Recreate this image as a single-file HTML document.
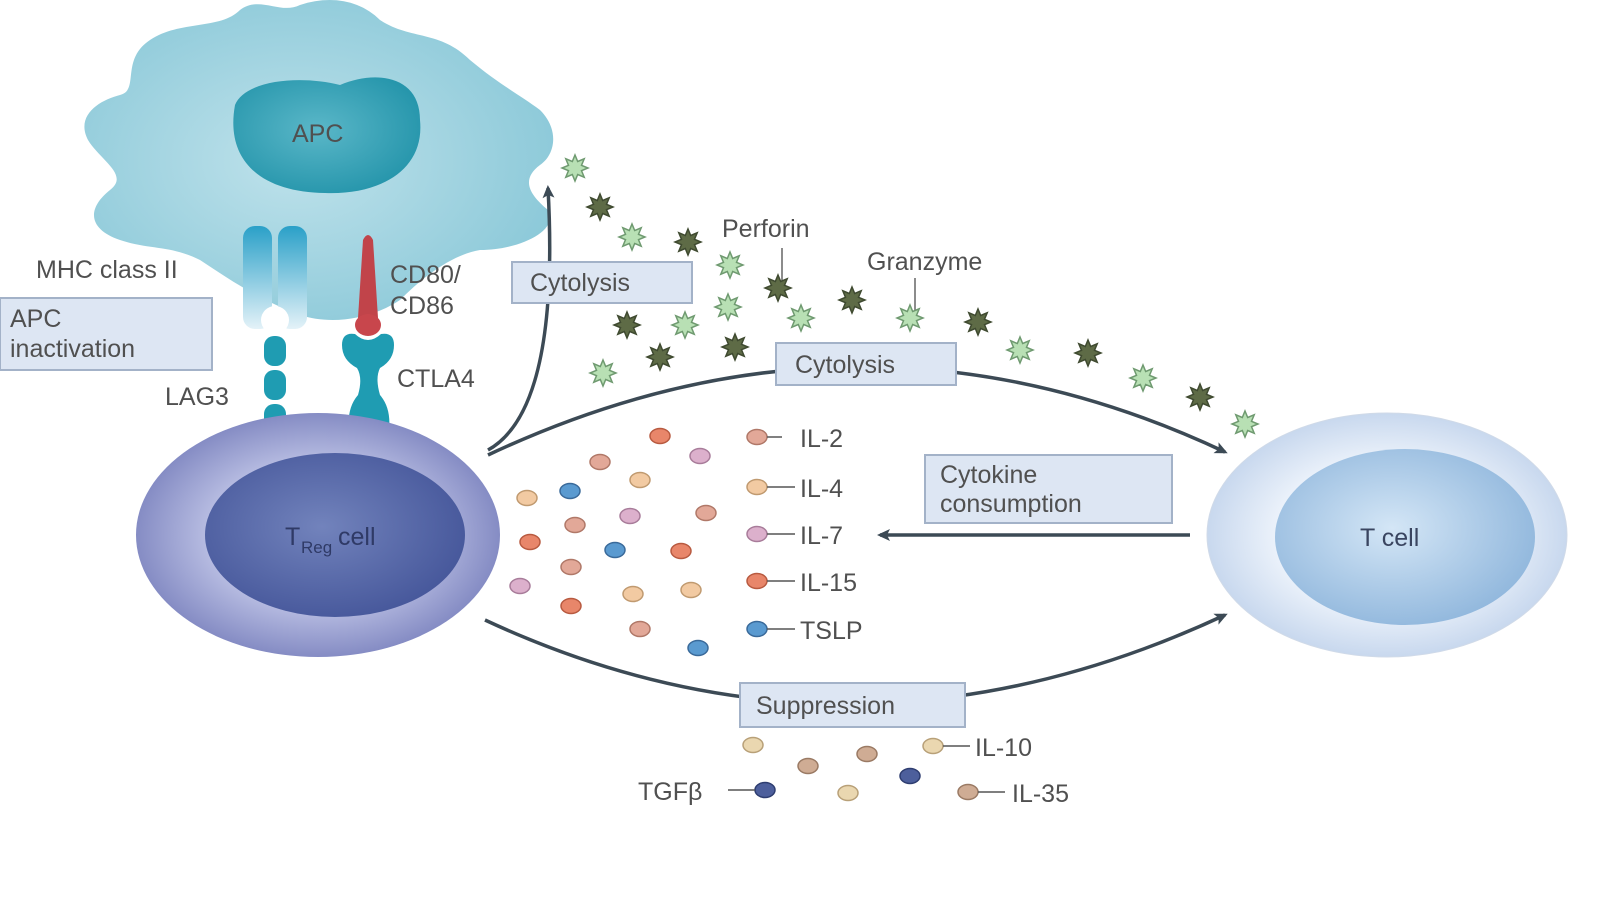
<!DOCTYPE html>
<html><head><meta charset="utf-8"><style>
body{margin:0;background:#fff;width:1600px;height:900px;overflow:hidden}
text{font-family:"Liberation Sans",sans-serif;fill:#505050;font-size:25px}
</style></head><body>
<svg width="1600" height="900" viewBox="0 0 1600 900" xmlns="http://www.w3.org/2000/svg">
<defs>
<radialGradient id="apc" cx="0.45" cy="0.5" r="0.6"><stop offset="0" stop-color="#bfe2eb"/><stop offset="1" stop-color="#8ac8d8"/></radialGradient>
<radialGradient id="nuc" cx="0.45" cy="0.45" r="0.6"><stop offset="0" stop-color="#5ab7c8"/><stop offset="1" stop-color="#2595ab"/></radialGradient>
<radialGradient id="treg" cx="0.5" cy="0.5" r="0.5"><stop offset="0.6" stop-color="#b8bde2"/><stop offset="1" stop-color="#858cc4"/></radialGradient>
<radialGradient id="tregn" cx="0.45" cy="0.45" r="0.6"><stop offset="0" stop-color="#7283bc"/><stop offset="1" stop-color="#45569a"/></radialGradient>
<radialGradient id="tc" cx="0.5" cy="0.5" r="0.5"><stop offset="0.6" stop-color="#edf3fb"/><stop offset="1" stop-color="#c8d8ee"/></radialGradient>
<radialGradient id="tcn" cx="0.45" cy="0.45" r="0.6"><stop offset="0" stop-color="#d4e6f6"/><stop offset="1" stop-color="#8fb6dc"/></radialGradient>
<linearGradient id="mhc" x1="0" y1="0" x2="0" y2="1"><stop offset="0" stop-color="#2aa0c8"/><stop offset="1" stop-color="#e4f2f8"/></linearGradient>
<path id="st" d="M0,-13 L2.7,-6.5 L9.2,-9.2 L6.5,-2.7 L13,0 L6.5,2.7 L9.2,9.2 L2.7,6.5 L0,13 L-2.7,6.5 L-9.2,9.2 L-6.5,2.7 L-13,0 L-6.5,-2.7 L-9.2,-9.2 L-2.7,-6.5 Z"/>
<marker id="ar" markerWidth="14" markerHeight="12" refX="10" refY="6" orient="auto" markerUnits="userSpaceOnUse"><path d="M0,0 L13,6 L0,12 L3,6 Z" fill="#3c4a55"/></marker>
</defs>

<path d="M150,40 C180,20 220,30 240,10 C260,-5 280,15 300,5 C330,-5 360,0 380,20 C410,40 440,30 470,60 C500,85 520,95 540,110 C560,130 555,155 540,165 C520,180 530,195 548,210 C560,230 520,250 480,250 C450,255 420,280 400,300 C370,320 330,325 300,315 C260,300 230,280 200,260 C170,245 150,250 120,240 C90,230 85,210 110,190 C130,175 100,160 88,140 C75,115 100,100 120,95 C140,90 120,60 150,40 Z" fill="url(#apc)"/>
<path d="M235,105 C245,80 300,75 340,85 C375,70 420,75 420,120 C425,170 380,195 325,193 C260,192 225,160 235,105 Z" fill="url(#nuc)"/>
<text x="292" y="142">APC</text>

<rect x="243" y="226" width="29" height="103" rx="12" fill="url(#mhc)"/>
<rect x="278" y="226" width="29" height="103" rx="12" fill="url(#mhc)"/>
<ellipse cx="275" cy="320" rx="14" ry="14" fill="#fff"/>
<rect x="264" y="336" width="22" height="30" rx="10" fill="#1f9cb2"/>
<rect x="264" y="370" width="22" height="30" rx="10" fill="#1f9cb2"/>
<rect x="264" y="404" width="22" height="34" rx="10" fill="#1f9cb2"/>
<path d="M363,240 Q368,230 373,240 L378,318 L358,318 Z" fill="#c1444a"/>
<ellipse cx="368" cy="325" rx="13" ry="11" fill="#c8464c"/>
<path d="M342,345 Q342,332 355,334 Q368,346 381,334 Q394,332 394,345 Q394,360 380,368 Q375,378 380,395 Q393,410 388,437 L350,437 Q345,410 358,395 Q363,378 357,368 Q342,360 342,345 Z" fill="#1f9cb2"/>

<ellipse cx="318" cy="535" rx="182" ry="122" fill="url(#treg)"/>
<ellipse cx="335" cy="535" rx="130" ry="82" fill="url(#tregn)"/>
<text x="285" y="545" style="fill:#2f3a66">T</text>
<text x="301" y="553" style="fill:#2f3a66;font-size:17px">Reg</text>
<text x="338" y="545" style="fill:#2f3a66">cell</text>
<ellipse cx="1387" cy="535" rx="180" ry="122" fill="url(#tc)" stroke="#d0dae8"/>
<ellipse cx="1405" cy="537" rx="130" ry="88" fill="url(#tcn)"/>
<text x="1360" y="546" style="fill:#3a4560">T cell</text>

<text x="36" y="278">MHC class II</text>
<text x="390" y="283">CD80/</text>
<text x="390" y="314">CD86</text>
<text x="165" y="405">LAG3</text>
<text x="397" y="387">CTLA4</text>

<g fill="none" stroke="#3c4a55" stroke-width="3.5">
<path d="M488,450 Q560,410 548,188" marker-end="url(#ar)"/>
<path d="M488,455 Q860,280 1225,452" marker-end="url(#ar)"/>
<path d="M485,620 Q850,790 1225,615" marker-end="url(#ar)"/>
<path d="M1190,535 L880,535" marker-end="url(#ar)"/>
<line x1="782" y1="248" x2="782" y2="285" stroke-width="1.5" stroke="#666"/>
<line x1="915" y1="278" x2="915" y2="312" stroke-width="1.5" stroke="#666"/>
</g>

<g fill="#dde6f3" stroke="#a3b2c8" stroke-width="2">
<rect x="0" y="298" width="212" height="72"/>
<rect x="512" y="262" width="180" height="41"/>
<rect x="776" y="343" width="180" height="42"/>
<rect x="925" y="455" width="247" height="68"/>
<rect x="740" y="683" width="225" height="44"/>
</g>
<text x="10" y="327">APC</text>
<text x="10" y="357">inactivation</text>
<text x="530" y="291">Cytolysis</text>
<text x="795" y="373">Cytolysis</text>
<text x="940" y="483">Cytokine</text>
<text x="940" y="512">consumption</text>
<text x="756" y="714">Suppression</text>
<text x="722" y="237">Perforin</text>
<text x="867" y="270">Granzyme</text>

<g fill="#b8e0b4" stroke="#6f9a70" stroke-width="1.5">
<use href="#st" x="575" y="168"/><use href="#st" x="632" y="237"/><use href="#st" x="730" y="265"/><use href="#st" x="728" y="307"/><use href="#st" x="685" y="325"/><use href="#st" x="603" y="373"/><use href="#st" x="801" y="318"/><use href="#st" x="910" y="318"/><use href="#st" x="1020" y="350"/><use href="#st" x="1143" y="378"/><use href="#st" x="1245" y="424"/>
</g>
<g fill="#5e6b46" stroke="#3f4a30" stroke-width="1.5">
<use href="#st" x="600" y="207"/><use href="#st" x="688" y="242"/><use href="#st" x="778" y="288"/><use href="#st" x="627" y="325"/><use href="#st" x="660" y="357"/><use href="#st" x="735" y="347"/><use href="#st" x="852" y="300"/><use href="#st" x="978" y="322"/><use href="#st" x="1088" y="353"/><use href="#st" x="1200" y="397"/>
</g>

<g stroke-width="1.5">
<g fill="#e8866a" stroke="#b85a40"><ellipse cx="660" cy="436" rx="10" ry="7.5"/><ellipse cx="530" cy="542" rx="10" ry="7.5"/><ellipse cx="681" cy="551" rx="10" ry="7.5"/><ellipse cx="571" cy="606" rx="10" ry="7.5"/><ellipse cx="757" cy="581" rx="10" ry="7.5"/></g>
<g fill="#e2a898" stroke="#b07868"><ellipse cx="600" cy="462" rx="10" ry="7.5"/><ellipse cx="575" cy="525" rx="10" ry="7.5"/><ellipse cx="706" cy="513" rx="10" ry="7.5"/><ellipse cx="571" cy="567" rx="10" ry="7.5"/><ellipse cx="640" cy="629" rx="10" ry="7.5"/><ellipse cx="757" cy="437" rx="10" ry="7.5"/></g>
<g fill="#f2caa2" stroke="#c09a70"><ellipse cx="640" cy="480" rx="10" ry="7.5"/><ellipse cx="527" cy="498" rx="10" ry="7.5"/><ellipse cx="633" cy="594" rx="10" ry="7.5"/><ellipse cx="691" cy="590" rx="10" ry="7.5"/><ellipse cx="757" cy="487" rx="10" ry="7.5"/></g>
<g fill="#dcb0cc" stroke="#a87c9a"><ellipse cx="700" cy="456" rx="10" ry="7.5"/><ellipse cx="630" cy="516" rx="10" ry="7.5"/><ellipse cx="520" cy="586" rx="10" ry="7.5"/><ellipse cx="757" cy="534" rx="10" ry="7.5"/></g>
<g fill="#5a9ad0" stroke="#3a6a9a"><ellipse cx="570" cy="491" rx="10" ry="7.5"/><ellipse cx="615" cy="550" rx="10" ry="7.5"/><ellipse cx="698" cy="648" rx="10" ry="7.5"/><ellipse cx="757" cy="629" rx="10" ry="7.5"/></g>
<g fill="#ead7b0" stroke="#b8a078"><ellipse cx="753" cy="745" rx="10" ry="7.5"/><ellipse cx="848" cy="793" rx="10" ry="7.5"/><ellipse cx="933" cy="746" rx="10" ry="7.5"/></g>
<g fill="#cfac94" stroke="#9a7a64"><ellipse cx="808" cy="766" rx="10" ry="7.5"/><ellipse cx="867" cy="754" rx="10" ry="7.5"/><ellipse cx="968" cy="792" rx="10" ry="7.5"/></g>
<g fill="#4d5f9c" stroke="#2e3d70"><ellipse cx="910" cy="776" rx="10" ry="7.5"/><ellipse cx="765" cy="790" rx="10" ry="7.5"/></g>
</g>
<g stroke="#555" stroke-width="1.5">
<line x1="767" y1="437" x2="782" y2="437"/><line x1="767" y1="487" x2="795" y2="487"/><line x1="767" y1="534" x2="795" y2="534"/><line x1="767" y1="581" x2="795" y2="581"/><line x1="767" y1="629" x2="795" y2="629"/>
<line x1="943" y1="746" x2="970" y2="746"/><line x1="978" y1="792" x2="1005" y2="792"/><line x1="728" y1="790" x2="755" y2="790"/>
</g>
<text x="800" y="447">IL-2</text><text x="800" y="497">IL-4</text><text x="800" y="544">IL-7</text><text x="800" y="591">IL-15</text><text x="800" y="639">TSLP</text>
<text x="975" y="756">IL-10</text><text x="1012" y="802">IL-35</text><text x="638" y="800">TGFβ</text>
</svg>
</body></html>
